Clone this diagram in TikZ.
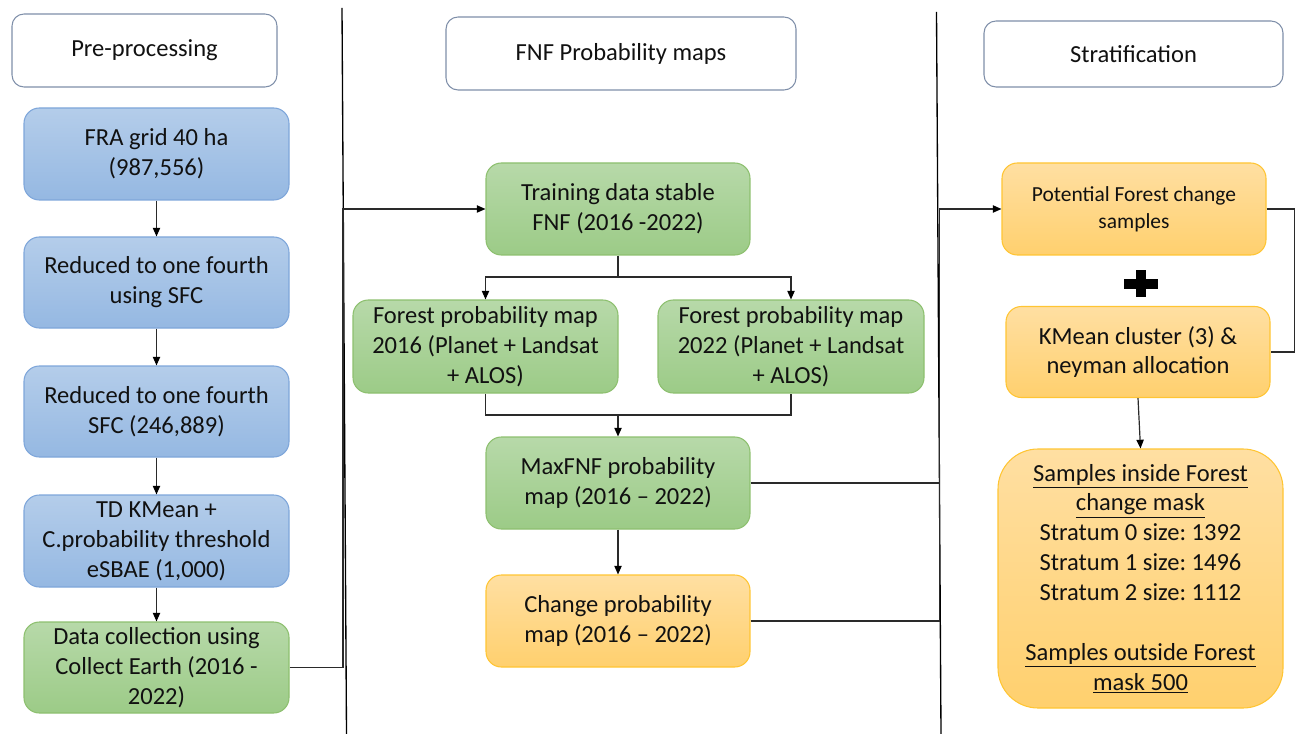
\documentclass[tikz,border=0pt]{standalone}
\usepackage{fontspec}
\setmainfont{Carlito}
\usetikzlibrary{arrows.meta}
\definecolor{bluetop}{HTML}{B4CDEA}
\definecolor{bluebot}{HTML}{95B8E2}
\definecolor{blueline}{HTML}{7EA6DA}
\definecolor{greentop}{HTML}{B7D9A9}
\definecolor{greenbot}{HTML}{9CCB87}
\definecolor{greenline}{HTML}{8DC06F}
\definecolor{orangetop}{HTML}{FFDFA2}
\definecolor{orangebot}{HTML}{FFD06E}
\definecolor{orangeline}{HTML}{FFC533}
\definecolor{headline}{HTML}{7F8FA9}
\definecolor{txt}{HTML}{111111}
\definecolor{conn}{HTML}{2A2A2A}
\tikzset{
  basebox/.style={rounded corners=11.5pt, align=center, inner sep=0pt, text=txt,
    font=\fontsize{18.4pt}{22.4pt}\selectfont, line width=0.8pt},
  headbox/.style={basebox, draw=headline, fill=white, rounded corners=9pt},
  bluebox/.style={basebox, draw=blueline, top color=bluetop, bottom color=bluebot,
    minimum width=265*0.75pt, minimum height=92*0.75pt},
  greenbox/.style={basebox, draw=greenline, top color=greentop, bottom color=greenbot,
    minimum width=265*0.75pt, minimum height=92*0.75pt},
  orangebox/.style={basebox, draw=orangeline, top color=orangetop, bottom color=orangebot,
    minimum width=265*0.75pt, minimum height=92*0.75pt},
  conline/.style={draw=conn, line width=0.9pt},
  arr/.style={conline, -{Triangle[length=6.5pt,width=5.5pt,color=black]}},
  divider/.style={draw=black, line width=1pt}
}
\begin{document}
\begin{tikzpicture}[x=0.75pt, y=0.75pt]
\useasboundingbox (0,0) rectangle (1295,-734);
% dividers
\draw[divider] (342,-8) -- (346.5,-734);
\draw[divider] (936.5,-12) -- (941,-734);
% headers
\node[headbox, minimum width=265*0.75pt, minimum height=73*0.75pt] (pre) at (144.5,-50.5) {Pre-processing};
\node[headbox, minimum width=350*0.75pt, minimum height=73*0.75pt] (fnf) at (621,-53.5) {FNF Probability maps};
\node[headbox, minimum width=299*0.75pt, minimum height=66*0.75pt] (strat) at (1133.5,-54) {Stratification};
% left column
\node[bluebox] (b1) at (156.5,-154) {FRA grid 40 ha\\(987,556)};
\node[bluebox, minimum height=91*0.75pt] (b2) at (156.5,-282.5) {Reduced to one fourth\\using SFC};
\node[bluebox, minimum height=91*0.75pt] (b3) at (156.5,-411.5) {Reduced to one fourth\\SFC (246,889)};
\node[bluebox] (b4) at (156.5,-541) {TD KMean +\\C.probability threshold\\eSBAE (1,000)};
\node[greenbox, minimum height=91*0.75pt] (b5) at (156.5,-667.5) {Data collection using\\Collect Earth (2016 -\\2022)};
\draw[arr] (b1.south) -- (b2.north);
\draw[arr] (b2.south) -- (b3.north);
\draw[arr] (b3.south) -- (b4.north);
\draw[arr] (b4.south) -- (b5.north);
% middle column
\node[greenbox, minimum width=264*0.75pt] (train) at (618,-209) {Training data stable\\FNF (2016 -2022)};
\node[greenbox, minimum height=93*0.75pt] (f16) at (485.5,-346.5) {Forest probability map\\2016 (Planet + Landsat\\+ ALOS)};
\node[greenbox, minimum height=93*0.75pt, minimum width=266*0.75pt] (f22) at (791,-346.5) {Forest probability map\\2022 (Planet + Landsat\\+ ALOS)};
\node[greenbox, minimum width=264*0.75pt] (maxf) at (618,-483) {MaxFNF probability\\map (2016 -- 2022)};
\node[orangebox, minimum width=264*0.75pt] (chg) at (618,-621) {Change probability\\map (2016 -- 2022)};
\coordinate (lc) at (343,-209);
\draw[arr] (b5.east) -| (lc) -- (train.west);
\coordinate (sp) at (618,-277);
\draw[conline] (train.south) -- (sp);
\draw[arr] (sp) -| (f16.north);
\draw[arr] (sp) -| (f22.north);
\coordinate (mj) at (618,-415);
\draw[conline] (f16.south) |- (mj) -| (f22.south);
\draw[arr] (mj) -- (maxf.north);
\draw[arr] (maxf.south) -- (chg.north);
% right column
\node[orangebox, minimum width=264*0.75pt, font=\fontsize{16.1pt}{20.3pt}\selectfont] (pot) at (1134,-209) {Potential Forest change\\samples};
\node[orangebox, minimum width=264*0.75pt, minimum height=91*0.75pt] (km) at (1138,-352) {KMean cluster (3) \&\\neyman allocation};
\node[orangebox, minimum width=285*0.75pt, minimum height=259*0.75pt, rounded corners=30pt] (smp) at (1140.5,-578.5)
  {\underline{Samples inside Forest}\\\underline{change mask}\\Stratum 0 size:\ 1392\\Stratum 1 size:\ 1496\\Stratum 2 size:\ 1112\\[22.4pt]\underline{Samples outside Forest}\\\underline{mask 500}};
\coordinate (rc) at (939.5,-209);
\draw[arr] (chg.east) -| (rc) -- (pot.west);
\draw[conline] (maxf.east) -- (maxf.east -| rc);
\coordinate (rr) at (1294.5,-209);
\draw[conline] (pot.east) -- (rr) |- (km.east);
\draw[arr] (km.south) -- (smp.north);
% plus sign
\fill[black] (1124,-279) rectangle (1158,-288.5);
\fill[black] (1136,-270) rectangle (1146,-297);
\end{tikzpicture}
\end{document}
